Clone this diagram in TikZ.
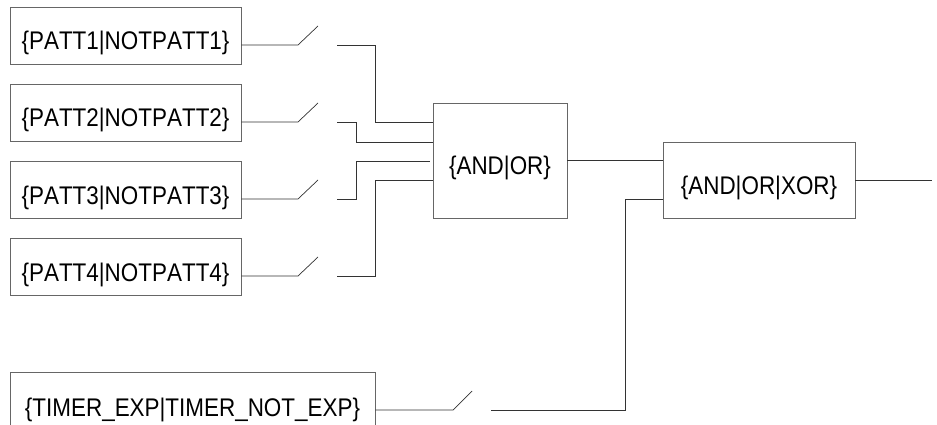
\documentclass[tikz,border=0pt]{standalone}
\usepackage{fontspec}
\setmainfont[FakeStretch=0.88,Kerning=Off]{Liberation Sans}
\begin{document}
\begin{tikzpicture}[x=1pt, y=-1pt, line width=0.7pt, color=black!80,
  every node/.style={draw=black!60, rectangle, inner sep=0pt, text=black, font=\fontsize{25.5pt}{27pt}\selectfont},
  pattbox/.style={minimum width=231pt, text height=43pt, text depth=14pt}]
\clip (0,0) rectangle (937,425);
\node[pattbox] (P1) at (125.5,35.5) {\{PATT1|NOTPATT1\}};
\node[pattbox] (P2) at (125.5,112.5) {\{PATT2|NOTPATT2\}};
\node[pattbox] (P3) at (125.5,189.5) {\{PATT3|NOTPATT3\}};
\node[pattbox] (P4) at (125.5,266.5) {\{PATT4|NOTPATT4\}};
\node[minimum width=365pt, text height=44pt, text depth=14pt] (T1) at (192.5,401) {\{TIMER\_EXP|TIMER\_NOT\_EXP\}};
\node[minimum width=134pt, text height=72pt, text depth=43pt] (A1) at (500,160.5) {\{AND|OR\}};
\node[minimum width=192pt, text height=52pt, text depth=24pt] (A2) at (759,180) {\{AND|OR|XOR\}};
\coordinate (S1A) at (298,45);
\coordinate (S1B) at (318,26);
\coordinate (S1C) at (337,45);
\coordinate (S2A) at (298,122);
\coordinate (S2B) at (318,103);
\coordinate (S2C) at (337,122);
\coordinate (S3A) at (298,199);
\coordinate (S3B) at (318,180);
\coordinate (S3C) at (337,199);
\coordinate (S4A) at (298,276);
\coordinate (S4B) at (318,257);
\coordinate (S4C) at (337,276);
\coordinate (S5A) at (453,410);
\coordinate (S5B) at (472,391);
\coordinate (S5C) at (491,410);
\coordinate (I1) at (433,122);
\coordinate (I2) at (433,142);
\coordinate (I3) at (430,161);
\coordinate (I4) at (433,180);
\coordinate (I5) at (663,160);
\coordinate (I6) at (663,199);
\coordinate (Out) at (932,180);
\draw (P1.east |- S1A) -- (S1A) -- (S1B);
\draw (P2.east |- S2A) -- (S2A) -- (S2B);
\draw (P3.east |- S3A) -- (S3A) -- (S3B);
\draw (P4.east |- S4A) -- (S4A) -- (S4B);
\draw (T1.east |- S5A) -- (S5A) -- (S5B);
\draw (S1C) -- ++(38,0) |- (I1);
\draw (S2C) -- ++(19,0) |- (I2);
\draw (S3C) -- ++(19,0) |- (I3);
\draw (S4C) -- ++(38,0) |- (I4);
\draw (S5C) -- ++(134,0) |- (I6);
\draw (A1.east |- I5) -- (I5);
\draw (A2.east |- Out) -- (Out);
\end{tikzpicture}
\end{document}
